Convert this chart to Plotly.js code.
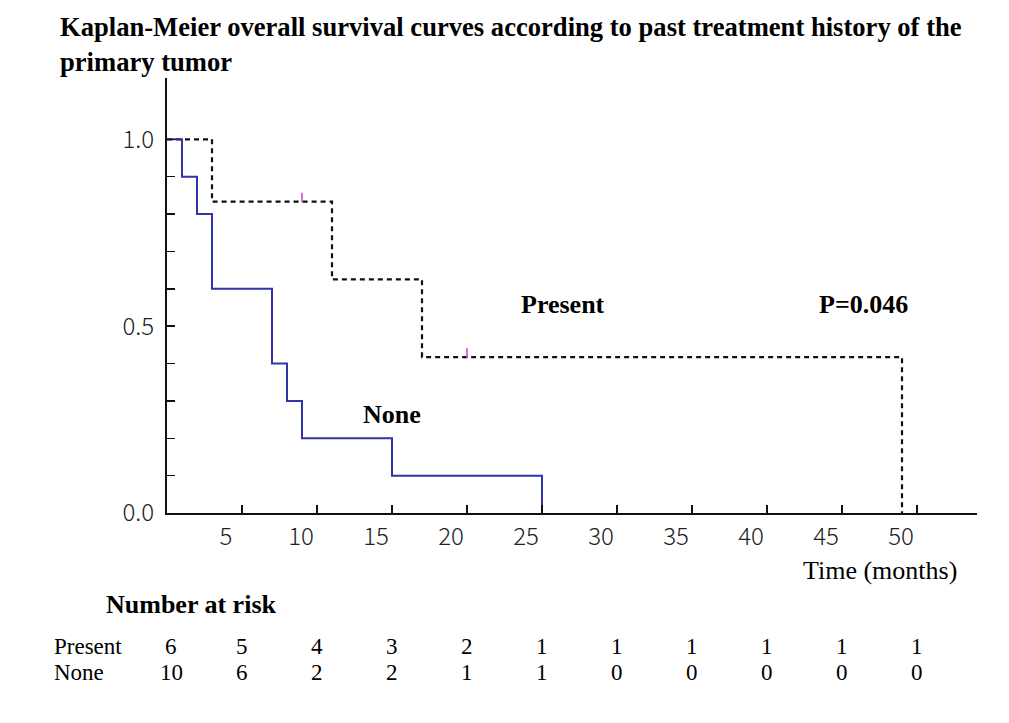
<!DOCTYPE html>
<html><head><meta charset="utf-8">
<script src="https://cdn.plot.ly/plotly-3.0.1.min.js"></script>
<style>html,body{margin:0;padding:0;background:#fff}#chart{width:1009px;height:723px}</style>
</head><body><div id="chart"></div>
<script>
// Kaplan-Meier step data
var presentTimes = [0, 3, 11, 17, 49];
var presentSurv  = [1.0, 0.833, 0.625, 0.417, 0.0];
var presentCensorTimes = [9, 20];
var presentCensorSurv  = [0.833, 0.417];
var noneTimes = [0, 1, 2, 3, 7, 8, 9, 15, 25];
var noneSurv  = [1.0, 0.9, 0.8, 0.6, 0.4, 0.3, 0.2, 0.1, 0.0];
// axis ticks
var xTickVals = [5, 10, 15, 20, 25, 30, 35, 40, 45, 50];
var xTickText = ['5','10','15','20','25','30','35','40','45','50'];
var yTickVals = [0, 0.1, 0.2, 0.3, 0.4, 0.5, 0.6, 0.7, 0.8, 0.9, 1.0];
var yTickText = ['0.0','','','','','0.5','','','','','1.0'];
// number at risk
var riskTimes   = [0, 5, 10, 15, 20, 25, 30, 35, 40, 45, 50];
var riskPresent = [6, 5, 4, 3, 2, 1, 1, 1, 1, 1, 1];
var riskNone    = [10, 6, 2, 2, 1, 1, 0, 0, 0, 0, 0];
var groupNames  = ['Present', 'None'];

var serif = 'Liberation Serif, Times New Roman, serif';
var tickFont = {family: 'Noto Sans CJK JP, sans-serif', size: 24, color: '#222', weight: 300};

var traces = [
  {x: presentTimes, y: presentSurv, mode: 'lines', line: {shape: 'hv', color: '#111', width: 2.2, dash: '5px,4px'}, hoverinfo: 'skip'},
  {x: noneTimes, y: noneSurv, mode: 'lines', line: {shape: 'hv', color: '#3333aa', width: 2}, hoverinfo: 'skip'},
  {x: presentCensorTimes, y: presentCensorSurv.map(function(v){return v + 0.011;}), mode: 'markers',
   marker: {symbol: 'line-ns-open', size: 7, color: '#cc44cc', line: {color: '#cc44cc', width: 1.5}}, hoverinfo: 'skip'}
];

var ann = [];
function add(o){ ann.push(Object.assign({showarrow: false, xanchor: 'center', yanchor: 'middle'}, o)); }
add({text: '<b>Kaplan-Meier overall survival curves according to past treatment history of the<br>primary tumor</b>',
     xref: 'paper', yref: 'paper', x: (58-167)/810, xanchor: 'left', y: (513.3-10)/435.3, yanchor: 'top', align: 'left',
     font: {family: serif, size: 26.6, color: '#000'}});
add({text: '<b>Present</b>', xref: 'x', yref: 'y', x: 26.4, y: 0.557, font: {family: serif, size: 26, color: '#000'}});
add({text: '<b>P=0.046</b>', xref: 'x', yref: 'y', x: 46.4, y: 0.557, font: {family: serif, size: 26, color: '#000'}});
add({text: '<b>None</b>', xref: 'x', yref: 'y', x: 15.0, y: 0.263, font: {family: serif, size: 26, color: '#000'}});
add({text: 'Time (months)', xref: 'paper', yref: 'paper', x: 0.880, y: -0.132, font: {family: serif, size: 26, color: '#000'}});
add({text: '<b>Number at risk</b>', xref: 'paper', yref: 'paper', x: -0.078, xanchor: 'left', y: -0.211, font: {family: serif, size: 26, color: '#000'}});
add({text: groupNames[0], xref: 'paper', yref: 'paper', x: -0.142, xanchor: 'left', y: -0.3065, font: {family: serif, size: 23, color: '#000'}});
add({text: groupNames[1], xref: 'paper', yref: 'paper', x: -0.142, xanchor: 'left', y: -0.367, font: {family: serif, size: 23, color: '#000'}});
riskTimes.forEach(function(t, i){
  add({text: String(riskPresent[i]), xref: 'x', yref: 'paper', x: t, y: -0.3065, xshift: i === 0 ? 4 : 0, font: {family: serif, size: 23, color: '#000'}});
  add({text: String(riskNone[i]), xref: 'x', yref: 'paper', x: t, y: -0.367, xshift: i === 0 ? 4 : 0, font: {family: serif, size: 23, color: '#000'}});
});

var layout = {
  width: 1009, height: 723,
  margin: {l: 167, r: 32, t: 78, b: 210},
  paper_bgcolor: '#fff', plot_bgcolor: '#fff',
  showlegend: false,
  xaxis: {range: [0, 54], showline: true, linecolor: '#111', linewidth: 2, showgrid: false, zeroline: false,
          tickmode: 'array', tickvals: xTickVals, ticktext: xTickText, ticks: 'inside', ticklen: 8, tickwidth: 1.5, tickcolor: '#111',
          ticklabelshift: -16, ticklabelstandoff: 1, tickfont: tickFont, fixedrange: true},
  yaxis: {range: [0, 1.164], showline: true, linecolor: '#111', linewidth: 2, showgrid: false, zeroline: false,
          tickmode: 'array', tickvals: yTickVals, ticktext: yTickText, ticks: 'inside', ticklen: 8, tickwidth: 1.5, tickcolor: '#111',
          ticklabelstandoff: 6, tickfont: tickFont, fixedrange: true},
  annotations: ann
};
Plotly.newPlot('chart', traces, layout, {staticPlot: true, displayModeBar: false});
</script></body></html>
